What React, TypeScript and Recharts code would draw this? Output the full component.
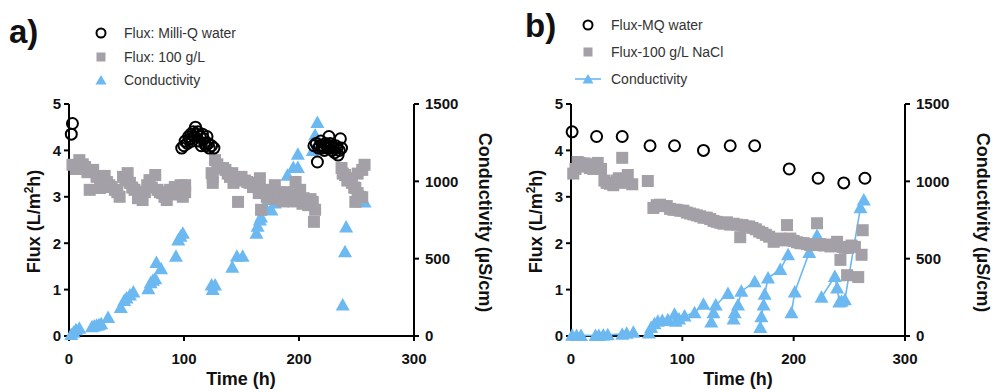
import { ComposedChart, Scatter, XAxis, YAxis } from "recharts";

// panel a) — [time (h), value]
const aMilliQ: [number, number][] = [
  [2, 4.35], [3, 4.58],
  [98, 4.05], [100, 4.1], [101, 4.2], [103, 4.15], [104, 4.3], [105, 4.25], [106, 4.35], [107, 4.2],
  [108, 4.4], [109, 4.3], [110, 4.5], [111, 4.35], [112, 4.4], [113, 4.2], [114, 4.3], [115, 4.1],
  [116, 4.35], [117, 4.25], [118, 4.15], [119, 4.1], [120, 4.3], [121, 4.15], [122, 4.05], [124, 4.1], [126, 4.05],
  [213, 4.1], [215, 4.15], [216, 3.75], [217, 4.05], [218, 4.1], [219, 4.2], [220, 4.05], [221, 4.1],
  [222, 4.0], [223, 4.15], [224, 4.1], [225, 4.05], [226, 4.3], [227, 4.15], [228, 4.1], [229, 4.0],
  [230, 4.05], [231, 3.95], [232, 4.1], [233, 4.05], [234, 3.9], [235, 4.0], [236, 4.25], [237, 4.05],
];
const aSalt: [number, number][] = [
  [3, 3.69], [6, 3.6], [9, 3.79], [12, 3.7], [14, 3.64], [16, 3.53], [18, 3.15], [21, 3.58], [24, 3.43],
  [27, 3.19], [29, 3.4], [31, 3.45], [33, 3.32], [35, 3.25], [37, 3.21], [40, 3.15], [42, 3.1], [44, 3.0],
  [47, 3.43], [49, 3.35], [51, 3.51], [53, 3.3], [55, 3.2], [57, 3.15], [60, 2.97], [62, 3.05], [64, 2.93],
  [66, 3.1], [68, 3.25], [70, 3.36], [72, 3.2], [75, 3.47], [77, 3.15], [79, 3.1], [81, 3.08], [83, 3.0],
  [85, 2.93], [88, 3.15], [90, 3.05], [92, 3.21], [94, 3.1], [97, 3.25], [99, 3.0], [101, 3.25], [101, 3.1],
  [124, 3.51], [125, 3.3], [125, 3.43], [127, 3.79], [129, 3.7], [131, 3.62], [134, 3.62], [136, 3.58],
  [138, 3.5], [140, 3.43], [142, 3.51], [143, 3.3], [147, 2.89], [150, 3.43], [153, 3.35], [155, 3.32],
  [157, 3.3], [160, 3.21], [163, 3.21], [165, 3.08], [166, 3.4], [167, 2.72], [170, 3.15], [172, 3.0],
  [175, 3.08], [177, 2.95], [179, 3.25], [181, 3.0], [183, 3.1], [186, 2.9], [188, 2.97], [190, 3.1],
  [192, 3.0], [195, 2.9], [197, 3.32], [199, 3.05], [201, 3.15], [203, 2.85], [204, 2.97], [206, 2.9],
  [208, 2.82], [210, 2.95], [212, 2.89], [213, 2.46], [214, 2.72],
  [237, 3.62], [238, 3.5], [240, 3.47], [242, 3.35], [243, 3.4], [246, 3.3], [248, 3.2], [249, 3.19],
  [249, 2.89], [251, 3.08], [251, 3.5], [253, 3.0], [255, 2.99], [255, 3.58], [257, 3.69],
];
const aCond: [number, number][] = [
  [2, 10], [4, 25], [6, 40], [9, 50], [20, 60], [22, 65], [24, 70], [26, 72], [28, 80], [34, 120],
  [45, 185], [48, 230], [50, 245], [53, 265], [56, 285], [69, 305], [71, 345], [73, 360], [75, 370],
  [76, 475], [80, 435], [93, 515], [95, 620], [97, 645], [99, 665],
  [124, 330], [125, 300], [127, 330], [142, 445], [146, 515], [151, 515], [163, 665], [164, 710],
  [166, 750], [167, 770], [170, 840], [176, 815], [179, 860], [190, 1040], [195, 1090], [199, 1090],
  [199, 1175], [212, 1200], [214, 1300], [216, 1380],
  [238, 200], [240, 545], [241, 705], [257, 866],
];

// panel b)
const bMilliQ: [number, number][] = [
  [1, 4.4], [23, 4.3], [46, 4.3], [71, 4.1], [93, 4.1], [119, 4.0], [143, 4.1], [165, 4.1],
  [196, 3.6], [222, 3.4], [245, 3.3], [264, 3.4],
];
const bSalt: [number, number][] = [
  [2, 3.5], [4, 3.6], [6, 3.75], [8, 3.73], [10, 3.65], [12, 3.72], [14, 3.7], [17, 3.62], [20, 3.6],
  [24, 3.73], [27, 3.6], [30, 3.35], [32, 3.3], [35, 3.28], [38, 3.25], [41, 3.35], [43, 3.4], [46, 3.84],
  [48, 3.3], [51, 3.47], [55, 3.27], [69, 3.34], [74, 2.76], [77, 2.82], [80, 2.83], [83, 2.8], [86, 2.8],
  [89, 2.74], [92, 2.72], [95, 2.72], [98, 2.7], [101, 2.7], [104, 2.66], [107, 2.64], [110, 2.62],
  [113, 2.6], [116, 2.58], [119, 2.55], [122, 2.55], [125, 2.52], [128, 2.48], [131, 2.46], [134, 2.44],
  [137, 2.42], [140, 2.45], [143, 2.4], [146, 2.42], [149, 2.4], [152, 2.13], [154, 2.39], [157, 2.36],
  [160, 2.36], [163, 2.33], [166, 2.3], [169, 2.25], [172, 2.22], [175, 2.18], [178, 2.14], [182, 2.03],
  [185, 2.08], [188, 2.1], [191, 2.06], [194, 2.39], [197, 2.1], [200, 2.05], [203, 2.02], [206, 2.0],
  [209, 2.0], [212, 1.98], [215, 1.96], [218, 1.96], [221, 2.43], [224, 1.98], [227, 1.95], [230, 1.97],
  [233, 1.93], [236, 1.94], [239, 2.03], [242, 1.64], [244, 1.92], [246, 1.9], [248, 1.31], [249, 1.9],
  [252, 1.95], [255, 1.92], [258, 1.27], [261, 1.75], [262, 2.28],
];
const bCondCycles: [number, number][][] = [
  [[1, 5], [5, 3], [9, 4], [22, 3], [25, 4], [29, 6], [33, 8], [46, 12], [50, 18], [56, 25]],
  [[70, 20], [72, 55], [75, 80], [78, 95], [82, 100], [87, 105], [93, 140]],
  [[94, 95], [97, 110], [102, 130], [111, 150], [119, 205]],
  [[126, 90], [128, 150], [130, 200], [141, 275]],
  [[146, 110], [147, 150], [150, 200], [153, 290], [165, 350]],
  [[170, 55], [171, 125], [173, 200], [174, 270], [177, 375], [188, 430], [195, 525]],
  [[198, 150], [201, 285], [214, 540], [221, 650]],
  [[225, 250], [237, 385], [239, 310], [241, 220]],
  [[243, 225], [246, 235], [260, 830], [263, 880]],
];

const GRAY = "#a4a0a7";
const BLUE = "#6cb8f1";
const FONT = "'Liberation Sans', Arial, sans-serif";

const pts = (arr: [number, number][]) => arr.map(([t, v]) => ({ t, v }));

const Ring = (p: any) => <circle cx={p.cx} cy={p.cy} r={5.5} fill="none" stroke="#000" strokeWidth={2} />;
const Box = (p: any) => <rect x={p.cx - 6} y={p.cy - 6} width={12} height={12} fill={GRAY} />;
const Tri = (p: any) => (
  <polygon points={`${p.cx},${p.cy - 7} ${p.cx + 7},${p.cy + 5.5} ${p.cx - 7},${p.cy + 5.5}`} fill={BLUE} />
);

const tickStyle = { fill: "#111", fontSize: 15, fontWeight: 700, fontFamily: FONT };
const axisLine = { stroke: "#000", strokeWidth: 2 };

function Panel({ left, width, leftW, rightW, milliQ, salt, cond, joined }: any) {
  return (
    <div style={{ position: "absolute", left, top: 0 }}>
      <ComposedChart width={width} height={392} margin={{ top: 104, right: 0, bottom: 0, left: 0 }}>
        <XAxis type="number" dataKey="t" domain={[0, 300]} ticks={[0, 100, 200, 300]} height={56}
          tick={tickStyle} axisLine={axisLine} tickLine={axisLine} tickSize={5} tickMargin={12} />
        <YAxis yAxisId="l" type="number" dataKey="v" domain={[0, 5]} ticks={[0, 1, 2, 3, 4, 5]} width={leftW}
          tick={tickStyle} axisLine={axisLine} tickLine={axisLine} tickSize={5} tickMargin={3} />
        <YAxis yAxisId="r" orientation="right" type="number" dataKey="v" domain={[0, 1500]} ticks={[0, 500, 1000, 1500]}
          width={rightW} tick={tickStyle} axisLine={axisLine} tickLine={axisLine} tickSize={5} tickMargin={6} />
        {cond.map((c: [number, number][], i: number) => (
          <Scatter key={"c" + i} yAxisId="r" data={pts(c)} shape={Tri} isAnimationActive={false}
            line={joined ? { stroke: BLUE, strokeWidth: 1.6 } : false} />
        ))}
        <Scatter yAxisId="l" data={pts(salt)} shape={Box} isAnimationActive={false} />
        <Scatter yAxisId="l" data={pts(milliQ)} shape={Ring} isAnimationActive={false} />
      </ComposedChart>
    </div>
  );
}

const abs = (x: number, y: number, extra: any = {}) => ({ position: "absolute" as const, left: x, top: y, ...extra });

function LegendRow({ x, y, icon, label }: any) {
  return (
    <div style={abs(x, y - 10, { display: "flex", alignItems: "center", height: 20, fontSize: 14, color: "#333" })}>
      <svg width={30} height={20} style={{ marginRight: 8 }}>{icon}</svg>
      <span>{label}</span>
    </div>
  );
}

const ringIcon = <circle cx={15} cy={10} r={4.5} fill="none" stroke="#000" strokeWidth={2} />;
const boxIcon = <rect x={10.5} y={5.5} width={9} height={9} fill={GRAY} />;
const triIcon = <polygon points="15,5 20.5,14.5 9.5,14.5" fill={BLUE} />;
const lineTriIcon = (
  <g>
    <line x1={2} y1={10} x2={28} y2={10} stroke={BLUE} strokeWidth={1.6} />
    <polygon points="15,5 20.5,14.5 9.5,14.5" fill={BLUE} />
  </g>
);

const titleStyle = { fontSize: 18, fontWeight: 700, color: "#111", whiteSpace: "nowrap" as const };

function AxisTitles({ cx, yl, yr }: { cx: number; yl: number; yr: number }) {
  return (
    <>
      <div style={abs(cx - 60, 369, { ...titleStyle, width: 120, textAlign: "center" })}>Time (h)</div>
      <div style={abs(yl - 100, 210, { ...titleStyle, width: 200, textAlign: "center", transform: "rotate(-90deg)" })}>
        Flux (L/m<sup style={{ fontSize: 12 }}>2</sup>h)
      </div>
      <div style={abs(yr - 120, 212, { ...titleStyle, width: 240, textAlign: "center", transform: "rotate(90deg)" })}>
        Conductivity (µS/cm)
      </div>
    </>
  );
}

export default function App() {
  return (
    <div style={abs(0, 0, { width: 995, height: 392, background: "#fff", fontFamily: FONT, overflow: "hidden" })}>
      <Panel left={0} width={500} leftW={69} rightW={86} milliQ={aMilliQ} salt={aSalt} cond={[aCond]} joined={false} />
      <Panel left={500} width={495} leftW={71} rightW={90} milliQ={bMilliQ} salt={bSalt} cond={bCondCycles} joined />

      <div style={abs(9, 13, { fontSize: 33, fontWeight: 700, color: "#111" })}>a)</div>
      <div style={abs(525, 7, { fontSize: 33, fontWeight: 700, color: "#111" })}>b)</div>

      <LegendRow x={86} y={33} icon={ringIcon} label="Flux: Milli-Q water" />
      <LegendRow x={86} y={57} icon={boxIcon} label="Flux: 100 g/L" />
      <LegendRow x={86} y={80} icon={triIcon} label="Conductivity" />

      <LegendRow x={573} y={25} icon={ringIcon} label="Flux-MQ water" />
      <LegendRow x={573} y={52} icon={boxIcon} label="Flux-100 g/L NaCl" />
      <LegendRow x={573} y={79} icon={lineTriIcon} label="Conductivity" />

      <AxisTitles cx={241} yl={33} yr={484} />
      <AxisTitles cx={738} yl={535} yr={982} />
    </div>
  );
}
